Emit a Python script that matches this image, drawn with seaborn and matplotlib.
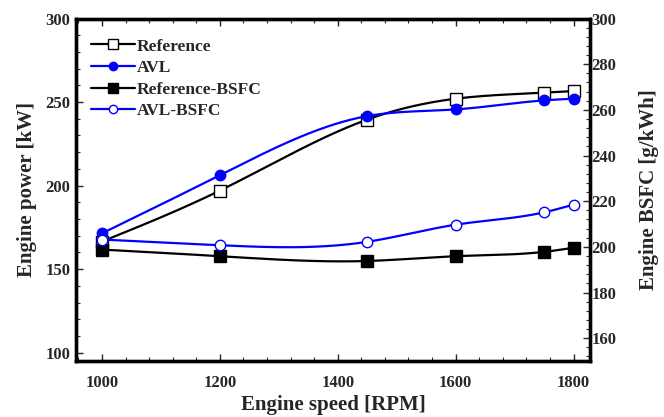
import numpy as np
import pandas as pd
import matplotlib
matplotlib.use("Agg")
import matplotlib.pyplot as plt
import seaborn as sns
from matplotlib.lines import Line2D
from matplotlib.ticker import MultipleLocator

# ---- data ----
rpm = [1000, 1200, 1450, 1600, 1750, 1800]
ref_power = [166.5, 197, 239.5, 252, 255.6, 256.6]
avl_power = [171.4, 206.2, 241.6, 245.6, 251, 252]
ref_bsfc = [198.8, 195.9, 193.8, 195.9, 197.8, 199.6]
avl_bsfc = [203.2, 200.7, 202.2, 209.7, 215.1, 218.5]
labels = ["Reference", "AVL", "Reference-BSFC", "AVL-BSFC"]


def natural_spline(x, y, n=300):
    x = np.asarray(x, float)
    y = np.asarray(y, float)
    k = len(x)
    h = np.diff(x)
    A = np.zeros((k, k))
    r = np.zeros(k)
    A[0, 0] = 1
    A[-1, -1] = 1
    for i in range(1, k - 1):
        A[i, i - 1] = h[i - 1]
        A[i, i] = 2 * (h[i - 1] + h[i])
        A[i, i + 1] = h[i]
        r[i] = 3 * ((y[i + 1] - y[i]) / h[i] - (y[i] - y[i - 1]) / h[i - 1])
    c = np.linalg.solve(A, r)
    xs = np.linspace(x[0], x[-1], n)
    ys = np.empty_like(xs)
    for j, xv in enumerate(xs):
        i = min(np.searchsorted(x, xv, side="right") - 1, k - 2)
        b = (y[i + 1] - y[i]) / h[i] - h[i] * (2 * c[i] + c[i + 1]) / 3
        d = (c[i + 1] - c[i]) / (3 * h[i])
        t = xv - x[i]
        ys[j] = y[i] + b * t + c[i] * t ** 2 + d * t ** 3
    return xs, ys


sns.set_style("ticks")
plt.rcParams["font.family"] = ["Liberation Serif", "DejaVu Serif"]
plt.rcParams["font.weight"] = "bold"
plt.rcParams["axes.labelweight"] = "bold"

fig = plt.figure(figsize=(6.64, 4.17), dpi=100)
ax = fig.add_axes([0.1145, 0.1343, 0.7741, 0.8213])
ax2 = ax.twinx()

BLUE = "#0000ff"
lw = 1.6
series = [
    (ax, ref_power, "black", "s", "white", 9),
    (ax, avl_power, BLUE, "o", BLUE, 7.5),
    (ax2, ref_bsfc, "black", "s", "black", 9),
    (ax2, avl_bsfc, BLUE, "o", "white", 7.5),
]
handles = []
for a, vals, col, mk, fc, ms in series:
    xs, ys = natural_spline(rpm, vals)
    sns.lineplot(x=xs, y=ys, ax=a, color=col, linewidth=lw, sort=False)
    a.plot(rpm, vals, linestyle="none", marker=mk, markersize=ms,
           markerfacecolor=fc, markeredgecolor=col, markeredgewidth=1.0)
    handles.append(Line2D([], [], color=col, linewidth=lw, marker=mk,
                          markersize=ms * 0.8, markerfacecolor=fc,
                          markeredgecolor=col))

ax.set_xlim(956, 1828)
ax.set_ylim(95, 300)

ax.xaxis.set_major_locator(MultipleLocator(200))
ax.xaxis.set_minor_locator(MultipleLocator(40))
ax.yaxis.set_major_locator(MultipleLocator(50))
ax.yaxis.set_minor_locator(MultipleLocator(10))
ax2.yaxis.set_minor_locator(MultipleLocator(4))
ax2.set_yticks(np.arange(160, 301, 20))
ax2.set_ylim(150, 300)

TS = 12
ax.tick_params(axis="x", which="both", direction="in", top=True, bottom=True,
               labelsize=TS, pad=10)
ax.tick_params(axis="y", which="both", direction="in", left=True, right=False,
               labelsize=TS, pad=4)
ax.tick_params(which="major", length=5, width=1.0)
ax.tick_params(which="minor", length=3, width=0.8)
ax2.tick_params(axis="y", which="both", direction="in", right=True, left=False,
                labelsize=TS, pad=1)
ax2.tick_params(which="major", length=5, width=1.0)
ax2.tick_params(which="minor", length=3, width=0.8)

for a in (ax, ax2):
    for s in a.spines.values():
        s.set_linewidth(2.4)
        s.set_color("black")
        s.set_visible(True)

for lab in ax.get_xticklabels() + ax.get_yticklabels() + ax2.get_yticklabels():
    lab.set_fontweight("bold")

LS = 15
ax.set_xlabel("Engine speed [RPM]", fontsize=LS, fontweight="bold", labelpad=3)
ax.set_ylabel("Engine power [kW]", fontsize=LS, fontweight="bold", labelpad=6)
ax2.set_ylabel("Engine BSFC [g/kWh]", fontsize=LS, fontweight="bold", labelpad=16)

leg = ax2.legend(handles, labels, loc="upper left", bbox_to_anchor=(0.03, 0.942),
                 frameon=False, handlelength=2.5, handletextpad=0.12,
                 labelspacing=0.31, borderaxespad=0, borderpad=0,
                 prop={"family": "Liberation Serif", "weight": "bold", "size": 12.5})

fig.savefig("out.png", dpi=100)
